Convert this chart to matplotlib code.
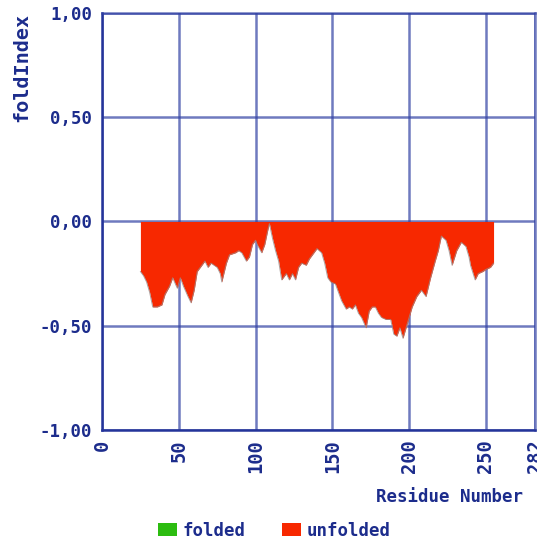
import matplotlib.pyplot as plt
from matplotlib.patches import Patch

# FoldIndex profile (residue, value)
residues = [25, 27, 29, 31, 33, 36, 39, 41, 44, 46, 49, 51, 53, 56, 58, 60,
            62, 65, 67, 69, 71, 75, 77, 78, 81, 83, 87, 89, 91, 94, 96, 98,
            100, 101, 104, 106, 108, 109, 111, 113, 115, 117, 120, 122, 124,
            126, 128, 130, 133, 135, 138, 140, 143, 145, 147, 149, 152, 154,
            156, 159, 161, 163, 165, 167, 169, 172, 174, 176, 178, 180, 182,
            185, 188, 190, 192, 194, 196, 198, 202, 205, 208, 211, 214, 217,
            219, 221, 224, 226, 228, 231, 234, 237, 239, 240, 243, 245, 248,
            250, 253, 255]
fold_index = [-0.24, -0.26, -0.29, -0.34, -0.41, -0.41, -0.40, -0.35, -0.31,
              -0.27, -0.32, -0.27, -0.31, -0.36, -0.39, -0.33, -0.24, -0.21,
              -0.19, -0.22, -0.20, -0.22, -0.25, -0.29, -0.20, -0.16, -0.15,
              -0.14, -0.15, -0.19, -0.17, -0.11, -0.09, -0.11, -0.15, -0.11,
              -0.04, -0.01, -0.08, -0.14, -0.19, -0.28, -0.25, -0.28, -0.25,
              -0.28, -0.22, -0.20, -0.21, -0.18, -0.15, -0.13, -0.15, -0.20,
              -0.27, -0.29, -0.30, -0.34, -0.38, -0.42, -0.41, -0.42, -0.40,
              -0.44, -0.46, -0.51, -0.43, -0.41, -0.41, -0.44, -0.46, -0.47,
              -0.47, -0.54, -0.55, -0.51, -0.56, -0.51, -0.41, -0.36, -0.33,
              -0.36, -0.27, -0.19, -0.14, -0.07, -0.09, -0.14, -0.21, -0.14,
              -0.10, -0.12, -0.17, -0.21, -0.28, -0.25, -0.24, -0.23, -0.22,
              -0.20]

x_ticks = [0, 50, 100, 150, 200, 250, 282]
y_ticks = [-1.0, -0.5, 0.0, 0.5, 1.0]
y_tick_labels = ["-1,00", "-0,50", "0,00", "0,50", "1,00"]

navy = "#1c2c8c"
grid_blue = "#3242a4"
red = "#f72800"
green = "#2cbc10"
font = "DejaVu Sans Mono"

fig = plt.figure(figsize=(5.37, 5.49), dpi=100)
ax = fig.add_axes([0.190, 0.2168, 0.8063, 0.7596])

ax.fill_between(residues, fold_index, 0, color=red, linewidth=0)
ax.plot(residues, fold_index, color="#9a8a88", linewidth=0.7, alpha=0.8)

ax.set_xlim(0, 282)
ax.set_ylim(-1, 1)
ax.set_xticks(x_ticks)
ax.set_xticklabels([str(t) for t in x_ticks], rotation=90)
ax.set_yticks(y_ticks)
ax.set_yticklabels(y_tick_labels)
ax.tick_params(length=0, pad=7, labelcolor=navy, labelsize=12.5)
ax.tick_params(axis="x", labelsize=13.5)
for lbl in ax.get_xticklabels() + ax.get_yticklabels():
    lbl.set_fontfamily(font)
    lbl.set_fontweight("bold")

ax.grid(True, color=grid_blue, linewidth=1.8, alpha=0.7)
ax.set_axisbelow(True)
for side in ["left", "bottom"]:
    ax.spines[side].set_color("#24349a")
    ax.spines[side].set_linewidth(1.8)
for side in ["top", "right"]:
    ax.spines[side].set_color(grid_blue)
    ax.spines[side].set_alpha(0.7)
    ax.spines[side].set_linewidth(1.8)

fig.text(22 / 537, 1 - 13 / 549, "foldIndex", rotation=90, ha="center",
         va="top", color=navy, fontsize=14.5, fontweight="bold", family=font)
fig.text(523 / 537, 1 - 497 / 549, "Residue Number", ha="right", va="center",
         color=navy, fontsize=12.5, fontweight="bold", family=font)

handles = [Patch(facecolor=green), Patch(facecolor=red)]
fig.legend(handles, ["folded", "unfolded"], loc="center",
           bbox_to_anchor=(0.511, 0.033), ncol=2, frameon=False,
           handlelength=1.1, handleheight=0.75, handletextpad=0.3,
           columnspacing=2.1,
           prop={"family": font, "weight": "bold", "size": 12.5},
           labelcolor=navy)

plt.savefig("out.png")
